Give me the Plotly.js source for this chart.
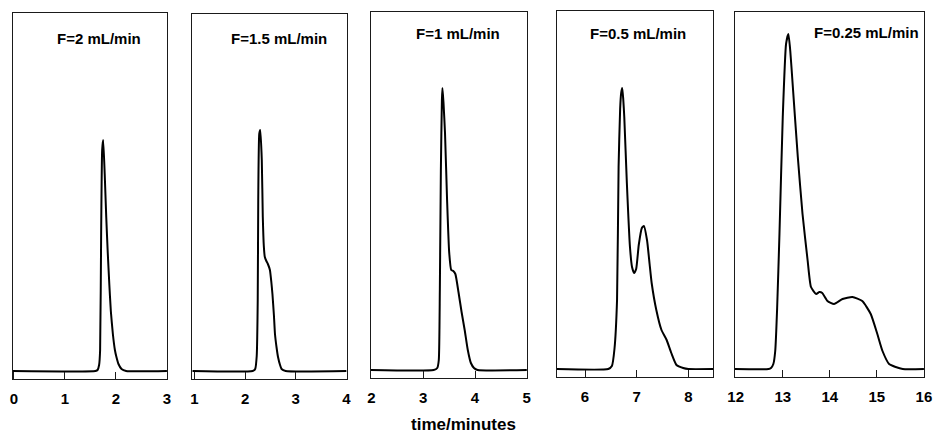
<!DOCTYPE html>
<html>
<head>
<meta charset="utf-8">
<script src="https://cdn.plot.ly/plotly-3.0.1.min.js"></script>
<style>html,body{margin:0;padding:0;background:#fff;}#chart{width:935px;height:436px;}</style>
</head>
<body>
<div id="chart"></div>
<script>
// ---- data (time in minutes, detector signal in arbitrary units above baseline) ----
const titles = ["F=2 mL/min", "F=1.5 mL/min", "F=1 mL/min", "F=0.5 mL/min", "F=0.25 mL/min"];
const xLabel = "time/minutes";

const t1 = [-0.025, 1.60, 1.64, 1.67, 1.69, 1.71, 1.73, 1.75, 1.78, 1.81, 1.84, 1.87, 1.90, 1.94, 1.98, 2.01, 2.05, 2.11, 2.20, 3.0];
const s1 = [0, 0, 1, 6, 21, 137, 221, 231, 197, 154, 118, 87, 60, 37, 21, 14, 7, 2, 0, 0];

const t2 = [0.96, 2.15, 2.20, 2.23, 2.25, 2.26, 2.28, 2.30, 2.33, 2.35, 2.37, 2.39, 2.42, 2.45, 2.49, 2.52, 2.54, 2.57, 2.59, 2.62, 2.65, 2.69, 2.72, 2.80, 4.0];
const s2 = [0, 0, 2, 15, 71, 171, 237, 241, 211, 154, 125, 114, 110, 107, 101, 88, 77, 55, 37, 24, 14, 6, 2, 0, 0];

const t3 = [1.99, 3.20, 3.27, 3.30, 3.32, 3.34, 3.36, 3.37, 3.39, 3.42, 3.46, 3.50, 3.54, 3.58, 3.62, 3.68, 3.74, 3.80, 3.86, 3.92, 3.98, 4.05, 5.0];
const s3 = [0, 0, 2, 10, 80, 200, 270, 282, 268, 237, 170, 118, 100, 99, 96, 78, 58, 40, 20, 7, 2, 0, 0];

const t4 = [5.458, 6.45, 6.52, 6.57, 6.62, 6.65, 6.68, 6.70, 6.72, 6.74, 6.76, 6.81, 6.87, 6.91, 6.95, 6.99, 7.04, 7.10, 7.14, 7.20, 7.25, 7.29, 7.38, 7.48, 7.58, 7.67, 7.77, 7.90, 8.0, 8.477];
const s4 = [0, 0, 3, 20, 69, 202, 260, 276, 281, 270, 252, 186, 122, 102, 96, 100, 124, 141, 143, 129, 105, 86, 59, 39, 29, 16, 4, 1, 0, 0];

const t5 = [11.985, 12.70, 12.75, 12.80, 12.84, 12.88, 12.93, 13.0, 13.07, 13.12, 13.16, 13.21, 13.32, 13.42, 13.53, 13.60, 13.71, 13.78, 13.84, 13.95, 14.09, 14.27, 14.48, 14.69, 14.87, 15.01, 15.12, 15.26, 15.40, 15.55, 16.0];
const s5 = [0, 0, 1, 5, 18, 60, 135, 252, 325, 335, 318, 285, 212, 155, 108, 82, 75, 77, 76, 68, 65, 70, 72, 68, 55, 35, 18, 5, 2, 0, 0];

const xRanges = [[-0.025, 3.002], [0.96, 4.004], [1.99, 5.004], [5.458, 8.477], [11.985, 16.002]];

const series = [[t1, s1], [t2, s2], [t3, s3], [t4, s4], [t5, s5]];

// ---- layout geometry (pixels in a 935x436 canvas) ----
const W = 935, H = 436;
const boxX = [[12.7, 167], [192.3, 346.7], [371, 527], [557, 713], [735, 924]];
const boxY = [[13, 379], [14, 379], [12, 378], [11, 377], [12, 377]]; // top, bottom
const basePad = 8; // baseline sits 8 px above bottom axis
const titlePos = [[99, 38], [279, 38], [458, 33], [638, 33], [866, 32]];

const FONT = "Liberation Sans, Arial, Helvetica, sans-serif";
const INK = "#1a1a1a";

const traces = [];
const layout = {
  width: W, height: H,
  margin: {l: 0, r: 0, t: 0, b: 0},
  paper_bgcolor: "#fff", plot_bgcolor: "#fff",
  showlegend: false,
  annotations: []
};

series.forEach(([t, s], i) => {
  const n = i + 1;
  const xa = n === 1 ? "x" : "x" + n;
  const ya = n === 1 ? "y" : "y" + n;
  traces.push({
    x: t, y: s, type: "scatter", mode: "lines",
    xaxis: xa, yaxis: ya,
    line: {color: "#000", width: 2, shape: "spline", smoothing: 0.5},
    hoverinfo: "skip"
  });
  const [top, bot] = boxY[i];
  const hpx = bot - top;
  layout[n === 1 ? "xaxis" : "xaxis" + n] = {
    domain: [boxX[i][0] / W, boxX[i][1] / W],
    range: xRanges[i],
    anchor: ya,
    tickmode: "linear", tick0: 0, dtick: 1,
    ticks: "inside", ticklen: 7, tickwidth: 1, tickcolor: INK,
    showline: true, mirror: true, linecolor: INK, linewidth: 1,
    showgrid: false, zeroline: false,
    tickfont: {family: FONT, size: 15, weight: "bold", color: "#000"},
    ticklabelstandoff: 6,
    fixedrange: true
  };
  layout[n === 1 ? "yaxis" : "yaxis" + n] = {
    domain: [1 - bot / H, 1 - top / H],
    range: [-basePad, hpx - basePad],
    anchor: xa,
    showticklabels: false, ticks: "",
    showline: true, mirror: true, linecolor: INK, linewidth: 1,
    showgrid: false, zeroline: false,
    fixedrange: true
  };
  layout.annotations.push({
    text: titles[i], xref: "paper", yref: "paper",
    x: titlePos[i][0] / W, y: 1 - titlePos[i][1] / H,
    xanchor: "center", yanchor: "middle", showarrow: false,
    font: {family: FONT, size: 15, weight: "bold", color: "#000"}
  });
});

layout.annotations.push({
  text: xLabel, xref: "paper", yref: "paper",
  x: 463 / W, y: 1 - 424 / H, xanchor: "center", yanchor: "middle", showarrow: false,
  font: {family: FONT, size: 17, weight: "bold", color: "#000"}
});

Plotly.newPlot("chart", traces, layout, {staticPlot: true, displayModeBar: false});
</script>
</body>
</html>
